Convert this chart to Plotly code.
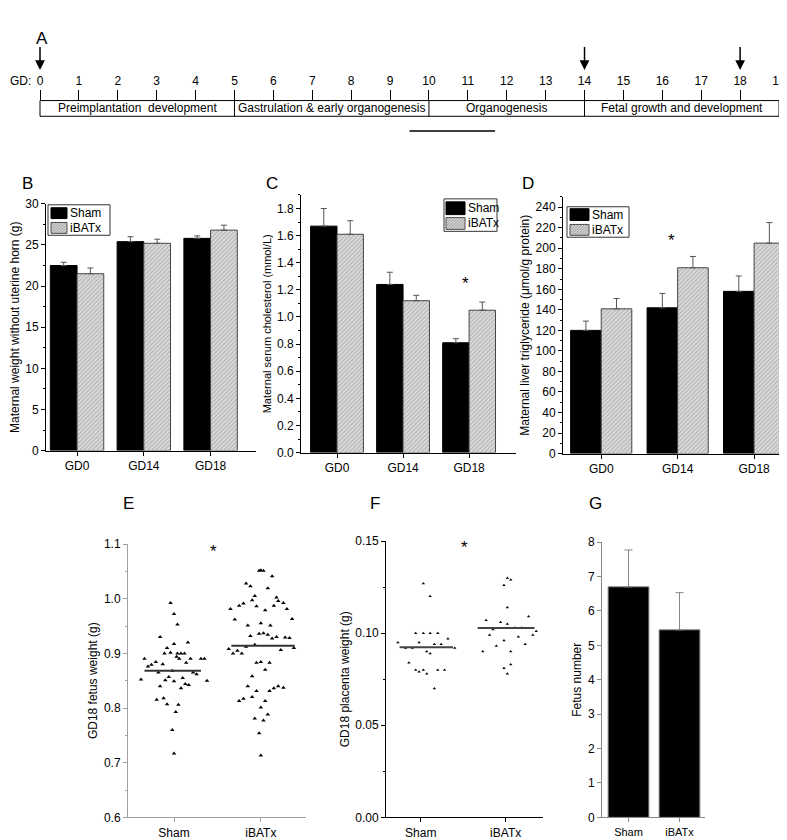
import plotly.graph_objects as go

W, H = 787, 840
FONT = "Liberation Sans, Arial, sans-serif"

# ---------------- data ----------------
gd_days = list(range(20))
stage_names = ["Preimplantation  development", "Gastrulation & early organogenesis",
               "Organogenesis", "Fetal growth and development"]
stage_bounds = [0, 5, 10, 14, 19]
arrow_days = [0, 14, 18]
underline_span = [9.5, 11.7]

timepoints = ["GD0", "GD14", "GD18"]
groups = ["Sham", "iBATx"]

weight_sham = [22.5, 25.4, 25.8]
weight_sham_err = [0.4, 0.6, 0.3]
weight_ibatx = [21.5, 25.2, 26.8]
weight_ibatx_err = [0.7, 0.5, 0.6]

chol_sham = [1.67, 1.24, 0.81]
chol_sham_err = [0.13, 0.09, 0.03]
chol_ibatx = [1.61, 1.12, 1.05]
chol_ibatx_err = [0.10, 0.04, 0.06]

tg_sham = [120, 142, 158]
tg_sham_err = [9, 14, 15]
tg_ibatx = [141, 181, 205]
tg_ibatx_err = [10, 11, 20]

# fetus weight (g): horizontal jitter offset, value
fetus_sham_dx = [-0.04, 0.00, 0.04, -0.16, 0.00, 0.16, -0.08, -0.11, -0.04, 0.04, 0.08, 0.12,
                 0.03, 0.06, 0.19, 0.31, 0.35, -0.34, -0.30, -0.26, -0.21, -0.13, 0.14, -0.18,
                 -0.02, 0.22, 0.26, -0.38, -0.06, -0.10, 0.00, 0.10, 0.13, 0.17, 0.08, -0.16,
                 0.38, -0.20, -0.12, -0.08, 0.05, 0.02, -0.02, 0.00]
fetus_sham = [0.992, 0.972, 0.953, 0.930, 0.917, 0.920, 0.910, 0.900, 0.901, 0.900, 0.900, 0.900,
              0.894, 0.890, 0.890, 0.890, 0.890, 0.890, 0.876, 0.879, 0.884, 0.880, 0.883, 0.865,
              0.868, 0.865, 0.862, 0.852, 0.857, 0.851, 0.849, 0.855, 0.844, 0.842, 0.836, 0.840,
              0.850, 0.815, 0.818, 0.807, 0.806, 0.793, 0.760, 0.717]

fetus_ibatx_dx = [-0.02, 0.00, 0.03, 0.13, -0.17, -0.12, 0.08, -0.07, 0.18, -0.10, 0.20, 0.26,
                  -0.25, -0.20, -0.05, 0.15, -0.35, 0.05, 0.30, -0.30, 0.36, -0.15, 0.00, 0.11,
                  -0.12, -0.02, 0.03, 0.08, 0.13, 0.18, 0.28, 0.33, 0.23, 0.38, -0.37, -0.32,
                  -0.27, -0.22, -0.17, -0.07, -0.05, 0.00, 0.10, 0.05, -0.10, -0.15, -0.05, 0.10,
                  0.15, 0.20, 0.26, -0.25, -0.20, -0.10, 0.05, 0.00, 0.08, -0.07, 0.03, -0.02, 0.00]
fetus_ibatx = [1.051, 1.052, 1.051, 1.041, 1.028, 1.023, 1.019, 1.005, 1.002, 0.997, 0.996, 0.992,
               0.987, 0.991, 0.986, 0.987, 0.981, 0.979, 0.981, 0.962, 0.963, 0.951, 0.955, 0.951,
               0.932, 0.936, 0.937, 0.934, 0.927, 0.930, 0.929, 0.928, 0.906, 0.910, 0.908, 0.900,
               0.905, 0.900, 0.912, 0.916, 0.883, 0.884, 0.883, 0.870, 0.858, 0.840, 0.831, 0.831,
               0.836, 0.840, 0.837, 0.813, 0.817, 0.820, 0.813, 0.801, 0.788, 0.781, 0.777, 0.754, 0.713]
fetus_mean = [0.868, 0.914]
fetus_mean_span = [[-0.34, 0.31], [-0.34, 0.39]]

# placenta weight (g)
plac_sham_dx = [0.03, 0.11, -0.06, 0.03, 0.11, 0.20, -0.27, -0.02, 0.32, 0.16, 0.24, -0.18,
                -0.10, 0.40, 0.07, 0.11, -0.14, -0.06, -0.02, 0.03, 0.07, 0.20, 0.28, 0.16]
plac_sham = [0.127, 0.120, 0.100, 0.100, 0.100, 0.100, 0.095, 0.095, 0.097, 0.094, 0.094, 0.092,
             0.092, 0.092, 0.090, 0.089, 0.084, 0.080, 0.079, 0.080, 0.078, 0.080, 0.080, 0.070]
plac_ibatx_dx = [0.02, 0.06, -0.02, 0.02, -0.23, -0.06, 0.02, 0.27, -0.15, 0.11, 0.19, 0.36,
                 -0.19, 0.15, 0.32, -0.02, -0.11, 0.23, -0.27, 0.06, 0.06, -0.02, 0.02]
plac_ibatx = [0.130, 0.129, 0.126, 0.114, 0.107, 0.106, 0.105, 0.109, 0.102, 0.103, 0.103, 0.101,
              0.099, 0.098, 0.099, 0.096, 0.093, 0.094, 0.090, 0.090, 0.083, 0.081, 0.078]
plac_mean = [0.0924, 0.1028]
plac_mean_span = [[-0.25, 0.38], [-0.33, 0.34]]

fetus_number = [6.7, 5.45]
fetus_number_err = [1.07, 1.08]

# ---------------- helpers ----------------
def px_x(p):
    return p / W


def px_y(p):
    return 1 - p / H


def dom_x(a, b):
    return [px_x(a), px_x(b)]


def dom_y(top, bottom):
    return [px_y(bottom), px_y(top)]


fig = go.Figure()

HATCH_FG, HATCH_BG = "#7a7a7a", "#dadada"
HATCH = dict(shape="/", fgcolor=HATCH_FG, bgcolor=HATCH_BG, size=3, solidity=0.3)


def add_bar_pair(xa, ya, sham, sham_e, ibx, ibx_e):
    fig.add_trace(go.Bar(
        x=timepoints, y=sham, name="Sham", xaxis=xa, yaxis=ya, showlegend=False,
        marker=dict(color="black", line=dict(color="black", width=1)),
        error_y=dict(type="data", symmetric=False, array=sham_e, arrayminus=[0] * len(sham),
                     color="#555555", thickness=1, width=3)))
    fig.add_trace(go.Bar(
        x=timepoints, y=ibx, name="iBATx", xaxis=xa, yaxis=ya, showlegend=False,
        marker=dict(color=HATCH_BG, pattern=HATCH, line=dict(color="#444444", width=1)),
        error_y=dict(type="data", symmetric=False, array=ibx_e, arrayminus=[0] * len(ibx),
                     color="#555555", thickness=1, width=3)))


add_bar_pair("x", "y", weight_sham, weight_sham_err, weight_ibatx, weight_ibatx_err)
add_bar_pair("x2", "y2", chol_sham, chol_sham_err, chol_ibatx, chol_ibatx_err)
add_bar_pair("x3", "y3", tg_sham, tg_sham_err, tg_ibatx, tg_ibatx_err)

# E scatter
for gi, (dx, vals) in enumerate([(fetus_sham_dx, fetus_sham), (fetus_ibatx_dx, fetus_ibatx)]):
    fig.add_trace(go.Scatter(x=[gi + d for d in dx], y=vals, mode="markers", xaxis="x4", yaxis="y4",
                             name=groups[gi],
                             marker=dict(symbol="triangle-up", size=4, color="black"),
                             showlegend=False))
    fig.add_trace(go.Scatter(x=[gi + fetus_mean_span[gi][0], gi + fetus_mean_span[gi][1]],
                             y=[fetus_mean[gi]] * 2, mode="lines", xaxis="x4", yaxis="y4",
                             name=groups[gi] + " mean",
                             line=dict(color="#333333", width=2), showlegend=False))

# F scatter
for gi, (dx, vals) in enumerate([(plac_sham_dx, plac_sham), (plac_ibatx_dx, plac_ibatx)]):
    fig.add_trace(go.Scatter(x=[gi + d for d in dx], y=vals, mode="markers", xaxis="x5", yaxis="y5",
                             name=groups[gi],
                             marker=dict(symbol="triangle-up", size=3, color="black"),
                             showlegend=False))
    fig.add_trace(go.Scatter(x=[gi + plac_mean_span[gi][0], gi + plac_mean_span[gi][1]],
                             y=[plac_mean[gi]] * 2, mode="lines", xaxis="x5", yaxis="y5",
                             name=groups[gi] + " mean",
                             line=dict(color="#444444", width=2), showlegend=False))

# G bars
fig.add_trace(go.Bar(x=groups, y=fetus_number, xaxis="x6", yaxis="y6", showlegend=False,
                     marker=dict(color="black", line=dict(color="#888888", width=1)),
                     error_y=dict(type="data", symmetric=False, array=fetus_number_err,
                                  arrayminus=[0, 0], color="#888888", thickness=1, width=4)))

# timeline dummy trace to anchor the axis
fig.add_trace(go.Scatter(x=gd_days, y=[87] * len(gd_days), mode="markers", xaxis="x7", yaxis="y7",
                         marker=dict(opacity=0), showlegend=False, hoverinfo="skip"))

tickfont = dict(family=FONT, size=12, color="black")


def yax(domain, rng, dtick, minor, title, tsize=11, color="black", standoff=3):
    return dict(domain=domain, range=rng, dtick=dtick, ticks="outside", ticklen=4, tickwidth=1,
                tickcolor=color, showline=True, linecolor=color, linewidth=1, showgrid=False,
                zeroline=False, tickfont=tickfont,
                minor=dict(ticks="outside", ticklen=2, dtick=minor, tickcolor=color, showgrid=False),
                title=dict(text=title, font=dict(family=FONT, size=tsize, color="black"), standoff=standoff))


def xax(domain, rng, color="black", tickvals=None, ticktext=None, fsize=12):
    d = dict(domain=domain, range=rng, ticks="outside", ticklen=4, tickwidth=1, tickcolor=color,
             showline=True, linecolor=color, linewidth=1, showgrid=False, zeroline=False,
             tickfont=dict(family=FONT, size=fsize, color="black"))
    if tickvals is not None:
        d.update(tickvals=tickvals, ticktext=ticktext)
    return d


layout = dict(
    width=W, height=H, margin=dict(l=0, r=0, t=0, b=0),
    paper_bgcolor="white", plot_bgcolor="white", showlegend=False,
    barmode="group", bargap=0.2, bargroupgap=0,
    font=dict(family=FONT, size=12, color="black"),
    xaxis=xax(dom_x(38, 248), [-0.465, 2.68]),
    yaxis=yax(dom_y(192, 443), [0, 30], 5, 2.5, "Maternal weight without uterine horn (g)", tsize=12),
    xaxis2=xax(dom_x(293, 508), [-0.545, 2.71]),
    yaxis2=yax(dom_y(183, 445), [0, 1.9], 0.2, 0.1, "Maternal serum cholesterol (mmol/L)", tsize=11),
    xaxis3=xax(dom_x(555, 782), [-0.5, 2.47]),
    yaxis3=yax(dom_y(185, 446), [0, 250], 20, 10, "Maternal liver triglyceride (\u03bcmol/g protein)", tsize=12),
    xaxis4=xax(dom_x(120, 298), [-0.53, 1.52], color="#a0a0a0", tickvals=[0, 1], ticktext=groups),
    yaxis4=yax(dom_y(538, 816), [0.6, 1.1], 0.1, 0.05, "GD18 fetus weight (g)", tsize=12, color="#a0a0a0"),
    xaxis5=xax(dom_x(378, 535), [-0.41, 1.44], tickvals=[0, 1], ticktext=groups),
    yaxis5=yax(dom_y(535, 816), [0, 0.15], 0.05, 0.025, "GD18 placenta weight (g)", tsize=12),
    xaxis6=xax(dom_x(594, 697), [-0.52, 1.5], color="#888888", fsize=11),
    yaxis6=yax(dom_y(536, 816), [0, 8], 1, 1, "Fetus number", tsize=12, color="#888888"),
    xaxis7=dict(domain=[0, 1], range=[-32 / 38.9, 19 + 16 / 38.9], anchor="free",
                position=px_y(87), side="top", tickvals=gd_days, ticks="outside", ticklen=11,
                tickcolor="black", tickwidth=1, showline=False, showgrid=False, zeroline=False,
                tickfont=tickfont),
    yaxis7=dict(domain=dom_y(0, 130), range=[130, 0], visible=False, showgrid=False, zeroline=False),
)
layout["yaxis6"]["tickformat"] = "d"
layout["yaxis5"]["tickformat"] = ".2f"
layout["yaxis4"]["tickformat"] = ".1f"
layout["yaxis2"]["tickformat"] = ".1f"
for a in ["", "2", "3", "4", "5", "6"]:
    layout["xaxis" + a]["anchor"] = "y" + a
    layout["yaxis" + a]["anchor"] = "x" + a
fig.update_layout(**layout)

# ---------- compact legends (drawn in pixel positions of the panel) ----------
def paper_rect(x0, y0, x1, y1, fill, line_color, lw=1):
    fig.add_shape(type="rect", xref="paper", yref="paper", x0=px_x(x0), x1=px_x(x1),
                  y0=px_y(y1), y1=px_y(y0), fillcolor=fill, line=dict(color=line_color, width=lw),
                  layer="above")


def hatch_path(x0, y0, x1, y1, step=3.0):
    w = x1 - x0
    segs = []
    c = -(y1 - y0)
    while c < w:
        lo = max(y0, y1 - (w - c))
        hi = min(y1, y1 + c)
        if hi > lo:
            pa = (x0 + c + (y1 - hi), hi)
            pb = (x0 + c + (y1 - lo), lo)
            segs.append("M{:.5f},{:.5f} L{:.5f},{:.5f}".format(px_x(pa[0]), px_y(pa[1]),
                                                              px_x(pb[0]), px_y(pb[1])))
        c += step
    return " ".join(segs)


def draw_legend(box, sw_x, sham_y, ibx_y, text_x):
    bx0, by0, bx1, by1 = box
    paper_rect(bx0, by0, bx1, by1, "white", "#333333", 1)
    paper_rect(sw_x[0], sham_y[0], sw_x[1], sham_y[1], "black", "black", 1)
    paper_rect(sw_x[0], ibx_y[0], sw_x[1], ibx_y[1], HATCH_BG, "#444444", 1)
    fig.add_shape(type="path", xref="paper", yref="paper",
                  path=hatch_path(sw_x[0], ibx_y[0], sw_x[1], ibx_y[1]),
                  line=dict(color=HATCH_FG, width=0.8), layer="above")
    for name, (ya, yb) in zip(groups, [sham_y, ibx_y]):
        fig.add_annotation(xref="paper", yref="paper", x=px_x(text_x), y=px_y((ya + yb) / 2),
                           text=name, showarrow=False, xanchor="left", yanchor="middle",
                           font=dict(family=FONT, size=12, color="black"))


draw_legend((40, 193, 102, 224), (43, 59), (196, 207), (211, 222), 60)
draw_legend((436, 187, 489, 220), (438, 457), (190, 203), (206, 218), 458)
draw_legend((559, 195, 621, 226), (562, 581), (197, 209), (213, 224), 582)

# ---------- timeline shapes ----------
box_top, box_bot = 87, 103
fig.add_shape(type="rect", xref="x7", yref="y7", x0=stage_bounds[0], x1=stage_bounds[-1],
              y0=box_top, y1=box_bot, line=dict(color="black", width=1))
for b in stage_bounds[1:-1]:
    fig.add_shape(type="line", xref="x7", yref="y7", x0=b, x1=b, y0=box_top, y1=box_bot,
                  line=dict(color="black", width=1))
for name, a, b in zip(stage_names, stage_bounds[:-1], stage_bounds[1:]):
    fig.add_annotation(xref="x7", yref="y7", x=(a + b) / 2, y=(box_top + box_bot) / 2, text=name,
                       showarrow=False, font=dict(family=FONT, size=12, color="black"))
fig.add_shape(type="line", xref="x7", yref="y7", x0=underline_span[0], x1=underline_span[1],
              y0=118, y1=118, line=dict(color="black", width=1.5))
for d in arrow_days:
    fig.add_annotation(xref="x7", yref="y7", x=d, y=56, ax=d, ay=31, axref="x7", ayref="y7",
                       text="", showarrow=True, arrowhead=2, arrowsize=1.3, arrowwidth=1.5,
                       arrowcolor="black")
fig.add_annotation(xref="x7", yref="y7", x=-0.17, y=67, text="GD:", showarrow=False,
                   xanchor="right", font=dict(family=FONT, size=12, color="black"))

# ---------- panel letters ----------
for lab, x, y in [("A", 26, 12), ("B", 12, 160), ("C", 264, 160), ("D", 520, 160),
                  ("E", 113, 497), ("F", 367, 497), ("G", 596, 497)]:
    fig.add_annotation(xref="paper", yref="paper", x=px_x(x), y=px_y(y), text=lab, showarrow=False,
                       font=dict(family=FONT, size=17, color="black"))

# ---------- significance stars ----------
for xa, ya, x, y in [("x2", "y2", 1.95, 1.27), ("x3", "y3", 0.92, 210),
                     ("x4", "y4", 0.45, 1.091), ("x5", "y5", 0.52, 0.148)]:
    fig.add_annotation(xref=xa, yref=ya, x=x, y=y, text="*", showarrow=False,
                       font=dict(family=FONT, size=17, color="black"), yshift=-3)

fig.write_html("out.html")
